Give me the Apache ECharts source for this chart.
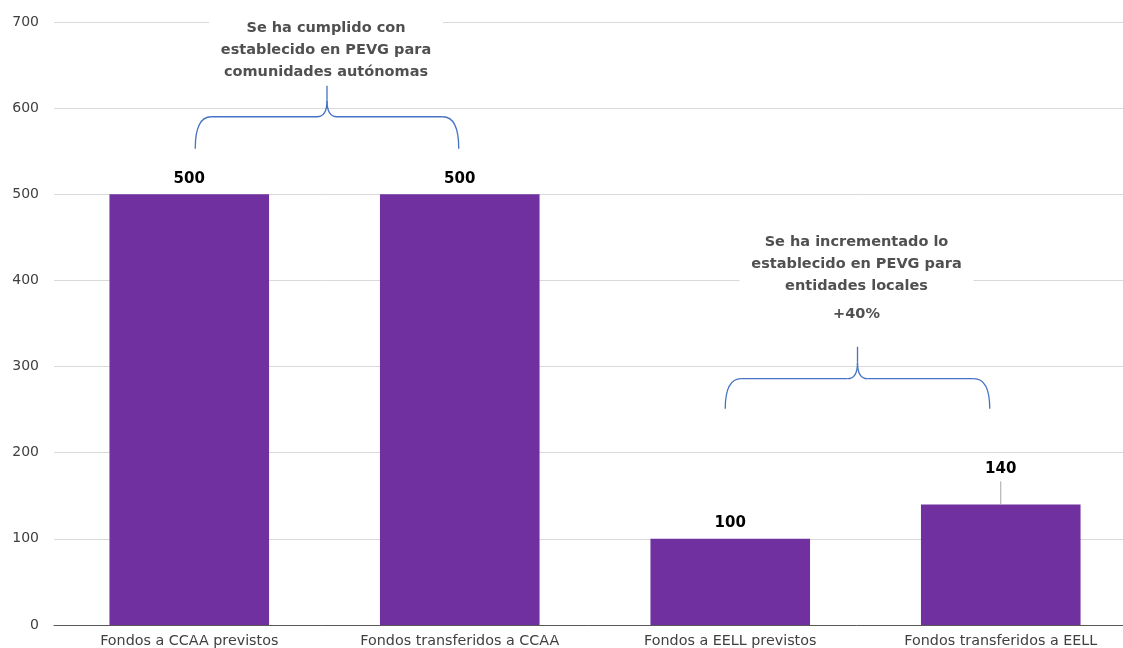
<!DOCTYPE html>
<html>
<head>
<meta charset="utf-8">
<script src="https://cdn.jsdelivr.net/npm/echarts@6/dist/echarts.min.js"></script>
<style>
  html, body { margin: 0; padding: 0; background: #fff; }
  #chart { width: 1123px; height: 648px; }
</style>
</head>
<body>
<div id="chart"></div>
<script>
// Fondos del PEVG: previstos frente a transferidos
const categories = [
  'Fondos a CCAA previstos',
  'Fondos transferidos a CCAA',
  'Fondos a EELL previstos',
  'Fondos transferidos a EELL'
];
const fondos = [500, 500, 100, 140];
const yMin = 0;
const yMax = 700;
const yStep = 100;

// Llaves de anotación (en unidades del eje Y) y sus textos
const llaveCCAA = { desde: 0, hasta: 1, base: 553, medio: 590, punta: 626 };
const llaveEELL = { desde: 2, hasta: 3, base: 251, medio: 286, punta: 323 };
const textoCCAA = ['Se ha cumplido con', 'establecido en PEVG para', 'comunidades autónomas'];
const textoEELL = ['Se ha incrementado lo', 'establecido en PEVG para', 'entidades locales'];
const incremento = '+40%';

const FONT = 'DejaVu Sans';
const chart = echarts.init(document.getElementById('chart'), null, { renderer: 'canvas' });

chart.setOption({
  animation: false,
  backgroundColor: '#ffffff',
  grid: {
    left: 54, top: 22, width: 1082, height: 603,
    containLabel: false, outerBoundsMode: 'none'
  },
  xAxis: {
    type: 'category',
    data: categories,
    axisTick: { show: false },
    axisLine: { show: true, lineStyle: { color: '#595959', width: 1 } },
    axisLabel: { color: '#404040', fontFamily: FONT, fontSize: 14.3, margin: 9 },
    splitLine: { show: false }
  },
  yAxis: {
    type: 'value',
    min: yMin, max: yMax, interval: yStep,
    axisLine: { show: false },
    axisTick: { show: false },
    axisLabel: { color: '#404040', fontFamily: FONT, fontSize: 14, margin: 15 },
    splitLine: { lineStyle: { color: '#d9d9d9', width: 1 } }
  },
  series: [{
    type: 'bar',
    data: fondos.map((v, i) => i === 3
      ? { value: v, label: { distance: 28 } }
      : v),
    barWidth: '59%',
    itemStyle: { color: '#7030A0' },
    label: {
      show: true,
      position: 'top',
      distance: 8,
      color: '#000000',
      fontFamily: FONT,
      fontWeight: 'bold',
      fontSize: 15
    }
  }]
});

const TRAZO = { stroke: '#4472C4', lineWidth: 1.3, fill: null };

// Llave horizontal con punta hacia arriba, hecha de curvas y segmentos
function llave(l, offIzq, offDer) {
  const x1 = chart.convertToPixel({ xAxisIndex: 0 }, l.desde) + offIzq;
  const x2 = chart.convertToPixel({ xAxisIndex: 0 }, l.hasta) + offDer;
  const yb = chart.convertToPixel({ yAxisIndex: 0 }, l.base);
  const ym = chart.convertToPixel({ yAxisIndex: 0 }, l.medio);
  const yt = chart.convertToPixel({ yAxisIndex: 0 }, l.punta);
  const xc = (x1 + x2) / 2;
  const r = 16;
  const els = [
    { type: 'bezierCurve', z: 52, style: TRAZO,
      shape: { x1: x1, y1: yb, cpx1: x1, cpy1: ym, x2: x1 + r, y2: ym } },
    { type: 'line', z: 52, style: TRAZO,
      shape: { x1: x1 + r, y1: ym, x2: xc - 10, y2: ym } },
    { type: 'bezierCurve', z: 52, style: TRAZO,
      shape: { x1: xc - 10, y1: ym, cpx1: xc, cpy1: ym, x2: xc, y2: ym - 16 } },
    { type: 'line', z: 52, style: TRAZO,
      shape: { x1: xc, y1: ym - 16, x2: xc, y2: yt } },
    { type: 'bezierCurve', z: 52, style: TRAZO,
      shape: { x1: xc + 10, y1: ym, cpx1: xc, cpy1: ym, x2: xc, y2: ym - 16 } },
    { type: 'line', z: 52, style: TRAZO,
      shape: { x1: xc + 10, y1: ym, x2: x2 - r, y2: ym } },
    { type: 'bezierCurve', z: 52, style: TRAZO,
      shape: { x1: x2 - r, y1: ym, cpx1: x2, cpy1: ym, x2: x2, y2: yb } }
  ];
  return { els, xc };
}

function bloqueTexto(lineas, extra, xc, yTop) {
  const out = [];
  const ancho = 234;
  const alto = extra ? 98 : 86;
  out.push({
    type: 'rect', z: 50,
    shape: { x: xc - ancho / 2, y: yTop - 16, width: ancho, height: alto },
    style: { fill: '#ffffff' }
  });
  const estilo = (t) => ({
    text: t, fill: '#505050', font: 'bold 14.5px "' + FONT + '"',
    textAlign: 'center', textVerticalAlign: 'middle'
  });
  lineas.forEach((t, i) => {
    out.push({ type: 'text', z: 51, x: xc, y: yTop + i * 22, style: estilo(t) });
  });
  if (extra) {
    out.push({ type: 'text', z: 51, x: xc, y: yTop + lineas.length * 22 + 6, style: estilo(extra) });
  }
  return out;
}

const b1 = llave(llaveCCAA, 6, -1);
const b2 = llave(llaveEELL, -5, -11);

// Línea guía de la etiqueta de la última barra
const xUlt = chart.convertToPixel({ xAxisIndex: 0 }, 3);
const yUlt = chart.convertToPixel({ yAxisIndex: 0 }, fondos[3]);

chart.setOption({
  graphic: [
    ...b1.els,
    ...b2.els,
    { type: 'line', z: 52,
      shape: { x1: xUlt, y1: yUlt, x2: xUlt, y2: yUlt - 23 },
      style: { stroke: '#a6a6a6', lineWidth: 1 } },
    ...bloqueTexto(textoCCAA, null, b1.xc - 1, 28),
    ...bloqueTexto(textoEELL, incremento, b2.xc - 1, 242)
  ]
});
</script>
</body>
</html>
